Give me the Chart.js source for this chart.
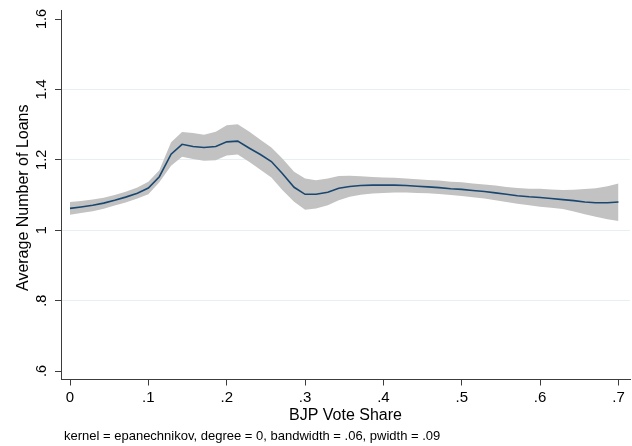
<!DOCTYPE html>
<html>
<head>
<meta charset="utf-8">
<script src="https://cdn.jsdelivr.net/npm/chart.js@4.4.1/dist/chart.umd.min.js"></script>
<style>
  html, body { margin: 0; padding: 0; background: #ffffff; }
  #wrap { width: 632px; height: 446px; }
</style>
</head>
<body>
<div id="wrap"><canvas id="c" width="632" height="446"></canvas></div>
<script>
// ---- data ----
const xVals = [0.000, 0.014, 0.029, 0.043, 0.057, 0.071, 0.086, 0.100, 0.114, 0.129,
               0.143, 0.157, 0.171, 0.186, 0.200, 0.214, 0.229, 0.243, 0.257, 0.271,
               0.286, 0.300, 0.314, 0.329, 0.343, 0.357, 0.371, 0.386, 0.400, 0.414,
               0.429, 0.443, 0.457, 0.471, 0.486, 0.500, 0.514, 0.529, 0.543, 0.557,
               0.571, 0.586, 0.600, 0.614, 0.629, 0.643, 0.657, 0.671, 0.686, 0.700];
const fitVals = [1.062, 1.066, 1.071, 1.077, 1.085, 1.094, 1.105, 1.120, 1.152, 1.216,
                 1.244, 1.238, 1.235, 1.238, 1.251, 1.253, 1.233, 1.215, 1.195, 1.161,
                 1.122, 1.102, 1.102, 1.108, 1.119, 1.124, 1.127, 1.128, 1.128, 1.128,
                 1.127, 1.125, 1.123, 1.121, 1.118, 1.116, 1.113, 1.110, 1.106, 1.102,
                 1.098, 1.095, 1.093, 1.090, 1.087, 1.084, 1.080, 1.078, 1.078, 1.080];
const upperVals = [1.080, 1.083, 1.087, 1.092, 1.100, 1.109, 1.121, 1.138, 1.170, 1.250,
                   1.279, 1.276, 1.271, 1.280, 1.298, 1.301, 1.280, 1.257, 1.235, 1.204,
                   1.166, 1.147, 1.142, 1.147, 1.154, 1.155, 1.153, 1.151, 1.150, 1.149,
                   1.147, 1.145, 1.143, 1.141, 1.138, 1.136, 1.133, 1.130, 1.127, 1.123,
                   1.120, 1.118, 1.118, 1.116, 1.114, 1.115, 1.117, 1.119, 1.125, 1.133];
const lowerVals = [1.044, 1.049, 1.054, 1.061, 1.070, 1.079, 1.090, 1.102, 1.136, 1.183,
                   1.209, 1.202, 1.197, 1.199, 1.212, 1.215, 1.194, 1.172, 1.150, 1.114,
                   1.081, 1.058, 1.062, 1.071, 1.085, 1.095, 1.101, 1.104, 1.106, 1.107,
                   1.107, 1.106, 1.105, 1.103, 1.100, 1.097, 1.094, 1.090, 1.085, 1.080,
                   1.075, 1.071, 1.067, 1.064, 1.060, 1.053, 1.045, 1.038, 1.031, 1.026];
const xTickVals = [0, 0.1, 0.2, 0.3, 0.4, 0.5, 0.6, 0.7];
const xTickLabels = ['0', '.1', '.2', '.3', '.4', '.5', '.6', '.7'];
const yTickVals = [0.6, 0.8, 1.0, 1.2, 1.4, 1.6];
const yTickLabels = ['.6', '.8', '1', '1.2', '1.4', '1.6'];
const xTitle = 'BJP Vote Share';
const yTitle = 'Average Number of Loans';
const noteText = 'kernel = epanechnikov, degree = 0, bandwidth = .06, pwidth = .09';

// ---- styling ----
const FONT = '"Liberation Sans", Arial, Helvetica, sans-serif';
const AXIS_COLOR = '#3c3c3c';
const GRID_COLOR = '#e6eff1';

const toPts = (ys) => xVals.map((x, i) => ({ x: x, y: ys[i] }));

const rotatedYLabels = {
  id: 'rotatedYLabels',
  afterDraw(chart) {
    const ctx = chart.ctx;
    const ys = chart.scales.y;
    const area = chart.chartArea;
    ctx.save();
    ctx.fillStyle = '#000';
    ctx.font = '14.5px ' + FONT;
    ctx.textAlign = 'center';
    ctx.textBaseline = 'alphabetic';
    yTickVals.forEach((v, i) => {
      const py = ys.getPixelForValue(v);
      ctx.save();
      ctx.translate(45.5, py);
      ctx.rotate(-Math.PI / 2);
      ctx.fillText(yTickLabels[i], 0, 0);
      ctx.restore();
    });
    // y-axis title
    ctx.font = '16px ' + FONT;
    ctx.save();
    ctx.translate(28, (area.top + area.bottom) / 2 + 3);
    ctx.rotate(-Math.PI / 2);
    ctx.fillText(yTitle, 0, 0);
    ctx.restore();
    // note
    ctx.font = '13px ' + FONT;
    ctx.textAlign = 'left';
    ctx.textBaseline = 'middle';
    ctx.fillText(noteText, 64, 436);
    ctx.restore();
  }
};

new Chart(document.getElementById('c'), {
  type: 'line',
  data: {
    datasets: [
      {
        label: 'fit',
        data: toPts(fitVals),
        borderColor: '#1a476f',
        borderWidth: 1.6,
        pointRadius: 0,
        tension: 0,
        fill: false
      },
      {
        label: 'upper',
        data: toPts(upperVals),
        borderColor: 'rgba(0,0,0,0)',
        borderWidth: 0,
        backgroundColor: '#c2c2c2',
        pointRadius: 0,
        tension: 0,
        fill: '+1'
      },
      {
        label: 'lower',
        data: toPts(lowerVals),
        borderColor: 'rgba(0,0,0,0)',
        borderWidth: 0,
        pointRadius: 0,
        tension: 0,
        fill: false
      }
    ]
  },
  options: {
    responsive: false,
    animation: false,
    devicePixelRatio: 1,
    layout: { padding: { top: 10, right: 2, left: 0, bottom: 0 } },
    plugins: {
      legend: { display: false },
      tooltip: { enabled: false }
    },
    scales: {
      x: {
        type: 'linear',
        min: -0.0115,
        max: 0.7147,
        afterBuildTicks: (s) => { s.ticks = xTickVals.map(v => ({ value: v })); },
        afterFit: (s) => { s.height = 66.5; },
        border: { display: true, color: AXIS_COLOR, width: 1 },
        grid: {
          drawOnChartArea: false,
          drawTicks: true,
          tickLength: 6,
          tickColor: AXIS_COLOR
        },
        ticks: {
          autoSkip: false,
          maxRotation: 0,
          minRotation: 0,
          padding: 3,
          color: '#000',
          font: { family: FONT, size: 15 },
          callback: (v, i) => xTickLabels[i]
        },
        title: {
          display: true,
          text: xTitle,
          color: '#000',
          font: { family: FONT, size: 16 },
          padding: { top: 0, bottom: 20.5 }
        }
      },
      y: {
        type: 'linear',
        min: 0.5759,
        max: 1.6256,
        afterBuildTicks: (s) => { s.ticks = yTickVals.map(v => ({ value: v })); },
        afterFit: (s) => { s.width = 61; },
        border: { display: true, color: AXIS_COLOR, width: 1 },
        grid: {
          drawOnChartArea: true,
          drawTicks: true,
          tickLength: 6,
          tickColor: AXIS_COLOR,
          color: (c) => {
            const v = c.tick ? c.tick.value : null;
            return (v === 0.6 || v === 1.6) ? 'rgba(0,0,0,0)' : GRID_COLOR;
          }
        },
        ticks: { display: false },
        title: { display: false }
      }
    }
  },
  plugins: [rotatedYLabels]
});
</script>
</body>
</html>
